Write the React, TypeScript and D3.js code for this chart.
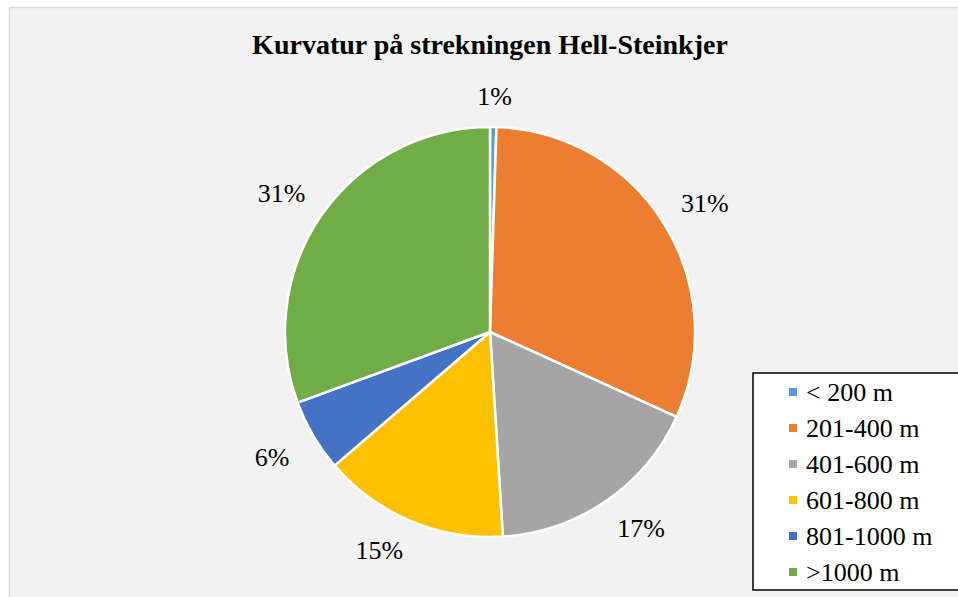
import { useEffect, useRef } from 'react';
import * as d3 from 'd3';

const title = 'Kurvatur på strekningen Hell-Steinkjer';
const categories = ['< 200 m', '201-400 m', '401-600 m', '601-800 m', '801-1000 m', '>1000 m'];
const shares = [0.5, 31.3, 17.2, 14.7, 5.7, 30.6];
const colors = ['#5B9BD5', '#ED7D31', '#A5A5A5', '#FFC000', '#4472C4', '#70AD47'];

const W = 958;
const H = 597;
const serif = "'Liberation Serif', 'Times New Roman', serif";

const App = () => {
  const svgRef = useRef<SVGSVGElement>(null);

  useEffect(() => {
    const svg = d3.select(svgRef.current);
    svg.selectAll('*').remove();

    // chart area (runs past the right / bottom edge like the screenshot)
    svg.append('rect').attr('width', W).attr('height', H).attr('fill', '#ffffff');
    svg
      .append('rect')
      .attr('x', 9.5)
      .attr('y', 7.5)
      .attr('width', W + 10)
      .attr('height', H + 10)
      .attr('fill', '#f2f2f2')
      .attr('stroke', '#d9d9d9')
      .attr('stroke-width', 1.5);

    svg
      .append('text')
      .attr('x', 490)
      .attr('y', 54)
      .attr('text-anchor', 'middle')
      .attr('font-family', serif)
      .attr('font-weight', 'bold')
      .attr('font-size', 28)
      .attr('fill', '#000')
      .text(title);

    const cx = 490;
    const cy = 332;
    const r = 205;

    const data = categories.map((c, i) => ({ cat: c, value: shares[i], color: colors[i] }));
    const pie = d3
      .pie<any>()
      .sort(null)
      .value((d) => d.value);
    const arcs = pie(data);
    const arc = d3.arc<any>().innerRadius(0).outerRadius(r);
    const total = d3.sum(shares);

    const g = svg.append('g').attr('transform', `translate(${cx},${cy})`);

    g.selectAll('path.slice')
      .data(arcs)
      .enter()
      .append('path')
      .attr('class', 'slice')
      .attr('d', arc as any)
      .attr('fill', (d) => d.data.color)
      .attr('stroke', '#ffffff')
      .attr('stroke-width', 2.5)
      .attr('stroke-linejoin', 'round');

    // data labels: box sits just outside the pie edge, pushed out by its half size
    const labelPos = (d: any) => {
      const a = (d.startAngle + d.endAngle) / 2;
      const s = Math.sin(a);
      const c = Math.cos(a);
      const base = r + 21;
      const ox = 23 * Math.sign(s) * Math.min(1, Math.abs(s) * 3);
      const oy = 10 * Math.sign(c) * Math.min(1, Math.abs(c) * 3);
      return [base * s + ox, -base * c - oy];
    };

    g.selectAll('text.lbl')
      .data(arcs)
      .enter()
      .append('text')
      .attr('class', 'lbl')
      .attr('x', (d) => labelPos(d)[0])
      .attr('y', (d) => labelPos(d)[1])
      .attr('dy', '0.35em')
      .attr('text-anchor', 'middle')
      .attr('font-family', serif)
      .attr('font-size', 26)
      .attr('fill', '#000')
      .text((d) => `${Math.round((d.data.value / total) * 100)}%`);

    // legend
    const legend = svg.append('g');
    legend
      .append('rect')
      .attr('x', 753)
      .attr('y', 373)
      .attr('width', 220)
      .attr('height', 217)
      .attr('fill', '#ffffff')
      .attr('stroke', '#000')
      .attr('stroke-width', 1.5);

    const ly = d3
      .scalePoint<string>()
      .domain(categories)
      .range([392, 572]);

    categories.forEach((c, i) => {
      legend
        .append('rect')
        .attr('x', 789)
        .attr('y', (ly(c) as number) - 4)
        .attr('width', 8)
        .attr('height', 8)
        .attr('fill', colors[i]);
      legend
        .append('text')
        .attr('x', 806)
        .attr('y', ly(c) as number)
        .attr('dy', '0.35em')
        .attr('font-family', serif)
        .attr('font-size', 26)
        .attr('fill', '#000')
        .text(c);
    });
  }, []);

  return (
    <div style={{ position: 'fixed', left: 0, top: 0 }}>
      <svg ref={svgRef} width={W} height={H} style={{ display: 'block' }}></svg>
    </div>
  );
};

export default App;
